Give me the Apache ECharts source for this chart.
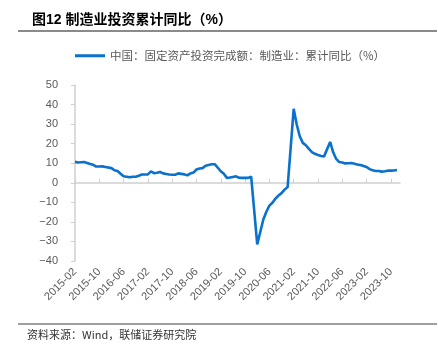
<!DOCTYPE html>
<html><head><meta charset="utf-8">
<script src="https://cdn.jsdelivr.net/npm/echarts@6/dist/echarts.min.js"></script>
<style>html,body{margin:0;padding:0;background:#fff}#c{width:438px;height:356px}</style>
</head><body><div id="c"></div>
<script>
const titleText = '图12 制造业投资累计同比（%）';
const legendName = '中国：固定资产投资完成额：制造业：累计同比（%）';
const sourceText = '资料来源：Wind，联储证券研究院';

// Monthly categories 2015-02 .. 2024-01
const startYear = 2015, startMonth = 2, monthCount = 108;
const categories = [];
for (let i = 0; i < monthCount; i++) {
  const m = startMonth - 1 + i;
  categories.push((startYear + Math.floor(m / 12)) + '-' + String(m % 12 + 1).padStart(2, '0'));
}

// Cumulative YoY (%), January not published (null)
const v2015 = [10.7, 10.4, 10.5, 10.6, 10.1, 9.6, 9.2, 8.3, 8.3, 8.4, 8.1];
const v2016 = [null, 7.5, 6.4, 6.0, 4.6, 3.3, 3.1, 2.8, 3.1, 3.1, 3.6, 4.2];
const v2017 = [null, 4.3, 5.8, 4.9, 5.1, 5.5, 4.8, 4.5, 4.2, 4.1, 4.1, 4.8];
const v2018 = [null, 4.3, 3.8, 4.8, 5.2, 6.8, 7.3, 7.5, 8.7, 9.1, 9.5, 9.5];
const v2019 = [null, 5.9, 4.6, 2.5, 2.7, 3.0, 3.3, 2.6, 2.5, 2.6, 2.5, 3.1];
const v2020 = [null, -31.5, -25.2, -18.8, -14.8, -11.7, -10.2, -8.1, -6.5, -5.3, -3.5, -2.2];
const v2021 = [null, 37.8, 29.8, 23.8, 20.4, 19.2, 17.3, 15.7, 14.8, 14.2, 13.7, 13.5];
const v2022 = [null, 20.9, 15.6, 12.2, 10.6, 10.4, 9.9, 10.0, 10.1, 9.7, 9.3, 9.1];
const v2023 = [null, 8.1, 7.0, 6.4, 6.0, 6.0, 5.7, 5.9, 6.2, 6.2, 6.3, 6.5];
const v2024 = [null];
const values = [].concat(v2015, v2016, v2017, v2018, v2019, v2020, v2021, v2022, v2023, v2024);

const yMin = -40, yMax = 50, yInterval = 10;

const chart = echarts.init(document.getElementById('c'), null, {renderer: 'canvas'});
const gray = '#cfcfcf';
chart.setOption({
  animation: false,
  title: {
    text: titleText, left: 27, top: 8,
    textStyle: {fontSize: 14, fontWeight: 'bold', color: '#000', fontFamily: 'Liberation Sans, Noto Sans CJK SC'}
  },
  legend: {
    top: 45, left: 70, icon: 'rect', itemWidth: 30, itemHeight: 3,
    textStyle: {color: '#595959', fontSize: 11.5, fontFamily: 'Noto Sans CJK SC'}
  },
  grid: {left: 75, right: 38, top: 85, bottom: 95},
  xAxis: [
    {
      type: 'category', data: categories, boundaryGap: false, position: 'bottom',
      axisLine: {show: false, onZero: false}, axisTick: {show: false},
      axisLabel: {interval: 7, rotate: 45, color: '#595959', fontSize: 11, fontFamily: 'Liberation Sans', margin: 9}
    },
    {
      type: 'category', data: categories, boundaryGap: false, position: 'bottom',
      axisLine: {show: true, onZero: true, lineStyle: {color: gray, width: 1.5}},
      axisTick: {show: true, inside: true, interval: 7, length: 4, lineStyle: {color: gray, width: 1}},
      axisLabel: {show: false}
    }
  ],
  yAxis: {
    type: 'value', min: yMin, max: yMax, interval: yInterval,
    axisLine: {show: true, lineStyle: {color: gray, width: 1.5}},
    axisTick: {show: true, length: 4, lineStyle: {color: gray}},
    splitLine: {show: false},
    axisLabel: {color: '#595959', fontSize: 11, fontFamily: 'Liberation Sans', margin: 17,
      formatter: v => v < 0 ? '\u2212' + Math.abs(v) : String(v)}
  },
  series: [{
    name: legendName, type: 'line', xAxisIndex: 0, data: values,
    connectNulls: true, showSymbol: false, symbol: 'none',
    lineStyle: {color: '#0A72CC', width: 2.6}, itemStyle: {color: '#0A72CC'}
  }],
  graphic: [
    {type: 'line', shape: {x1: 18, y1: 31, x2: 437, y2: 31}, style: {stroke: '#8a8a8a', lineWidth: 2}},
    {type: 'line', shape: {x1: 18, y1: 324, x2: 437, y2: 324}, style: {stroke: '#404040', lineWidth: 1}},
    {type: 'text', left: 27, top: 329, style: {text: sourceText, fontSize: 11, fill: '#333', fontFamily: 'Noto Sans CJK SC'}}
  ]
});
</script></body></html>
